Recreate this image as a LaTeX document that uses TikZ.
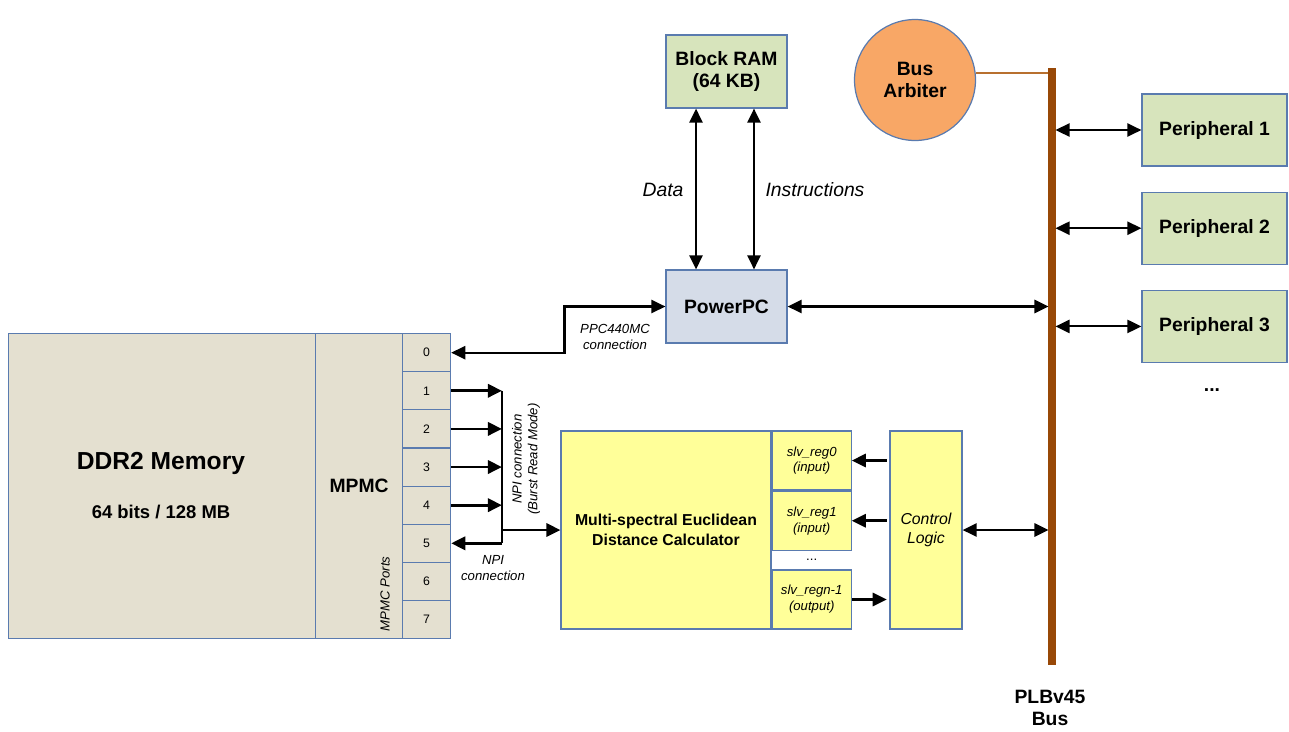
\documentclass[tikz,border=0pt]{standalone}
\usepackage{fontspec}
\setmainfont{Liberation Sans}
\usepackage{xcolor}
\usepackage{tikz}
\usetikzlibrary{arrows.meta,positioning,calc}
\definecolor{softtan}{HTML}{E4E0D0}
\definecolor{softgreen}{HTML}{D7E4BC}
\definecolor{softblue}{HTML}{D5DCE8}
\definecolor{softyellow}{HTML}{FFFF99}
\definecolor{softorange}{HTML}{F8A766}
\definecolor{line}{HTML}{5A7BAF}
\definecolor{busbrown}{HTML}{984807}
\definecolor{linkbrown}{HTML}{B8702F}

\begin{document}
\begin{tikzpicture}[
  x=0.02cm, y=-0.02cm,
  box/.style={draw=line, line width=0.7pt, minimum width=2.42cm, minimum height=1.46cm, align=center, inner sep=1pt, font=\fontsize{11}{13}\selectfont\bfseries},
  port/.style={draw=line, fill=softtan, line width=0.7pt, minimum width=0.96cm, minimum height=0.7625cm, inner sep=0pt, anchor=north west, font=\fontsize{7}{8}\selectfont},
  reg/.style={draw=line, fill=softyellow, line width=0.7pt, minimum width=1.58cm, minimum height=1.18cm, align=center, inner sep=0pt, font=\fontsize{7.5}{9}\selectfont\itshape},
  note/.style={align=center, inner sep=1pt, font=\fontsize{7.5}{9}\selectfont\itshape},
  arr/.style={-{Triangle[length=8pt,width=7.5pt]}, line width=1.5pt},
  darr/.style={{Triangle[length=8pt,width=7.5pt]}-{Triangle[length=8pt,width=7.5pt]}, line width=1.3pt},
  bus/.style={busbrown, line width=4pt}
]
\useasboundingbox (0,0) rectangle (1289,731);

% memory with MPMC and its ports
\node[draw=line, fill=softtan, line width=0.7pt, minimum width=6.14cm, minimum height=6.1cm, anchor=north west] (mem) at (8,333) {};
\node[draw=line, fill=softtan, line width=0.7pt, minimum width=1.74cm, minimum height=6.1cm, anchor=north west, font=\fontsize{11}{13}\selectfont\bfseries] (mpmc) at (315,333) {MPMC};
\node[font=\fontsize{14}{16}\selectfont\bfseries] (memtitle) at (161,463) {DDR2 Memory};
\node[font=\fontsize{10.5}{12}\selectfont\bfseries] (memsize) at (161,512) {64 bits / 128 MB};
\node[note, rotate=90] (portslbl) at (385,594) {MPMC Ports};
\foreach \i in {0,...,7}
  \node[port] (p\i) at (402,{333+38.125*\i}) {\i};

% processor side
\node[box, fill=softgreen] (bram) at (726.5,71.5) {Block RAM\\(64 KB)};
\node[box, fill=softblue] (ppc) at (726.5,306.5) {PowerPC};
\draw[darr] ([xshift=-0.61cm]bram.south) -- ([xshift=-0.61cm]ppc.north);
\draw[darr] ([xshift=0.55cm]bram.south) -- ([xshift=0.55cm]ppc.north);
\node[font=\fontsize{11}{13}\selectfont\itshape] (datalbl) at (663,190) {Data};
\node[font=\fontsize{11}{13}\selectfont\itshape] (instrlbl) at (815,190) {Instructions};
\draw[darr] (p0.east) -| ([xshift=-2.02cm]ppc.west) -- (ppc.west);
\node[note] (ppclbl) at (615,337) {PPC440MC\\connection};

% bus and arbiter
\node[circle, draw=line, fill=softorange, line width=0.7pt, minimum size=2.42cm, align=center, inner sep=0pt, font=\fontsize{11}{13}\selectfont\bfseries] (arb) at (915,80) {Bus\\Arbiter};
\coordinate (bustop) at (1052,68);
\coordinate (busbot) at (1052,665);
\draw[linkbrown, line width=1.2pt] (arb.7) -- (arb.7 -| bustop);
\draw[bus] (bustop) -- (busbot);
\node[align=center, font=\fontsize{11}{13}\selectfont\bfseries] (buslbl) at (1050,708) {PLBv45\\Bus};

% peripherals
\node[box, fill=softgreen, minimum width=2.9cm, minimum height=1.44cm] (per1) at (1214.5,130) {Peripheral 1};
\node[box, fill=softgreen, minimum width=2.9cm, minimum height=1.44cm, below=0.5cm of per1] (per2) {Peripheral 2};
\node[box, fill=softgreen, minimum width=2.9cm, minimum height=1.44cm, below=0.5cm of per2] (per3) {Peripheral 3};
\node[font=\fontsize{11}{13}\selectfont\bfseries] (perdots) at (1212,390) {...};
\foreach \i in {1,2,3}
  \draw[darr, line width=1.1pt, shorten <=2pt] (per\i.west -| bustop) -- (per\i.west);
\draw[darr, shorten >=2pt] (ppc.east) -- (ppc.east -| bustop);

% calculator, registers, control
\node[draw=line, fill=softyellow, line width=0.7pt, minimum width=4.2cm, minimum height=3.96cm, align=center, font=\fontsize{9}{11}\selectfont\bfseries] (medc) at (666,530) {Multi-spectral Euclidean\\Distance Calculator};
\node[reg, anchor=north west] (reg0) at (medc.north east) {slv\_reg0\\(input)};
\node[reg, below=0cm of reg0] (reg1) {slv\_reg1\\(input)};
\node[reg, anchor=south west] (regn) at (medc.south east) {slv\_regn-1\\(output)};
\node[font=\fontsize{7.5}{9}\selectfont] (regdots) at ($(reg1.south)!0.5!(regn.north)$) {...};
\node[draw=line, fill=softyellow, line width=0.7pt, minimum width=1.44cm, minimum height=3.96cm, align=center, font=\fontsize{9}{11}\selectfont\itshape] (ctrl) at (926,530) {Control\\Logic};
\draw[arr, shorten <=1.5pt] (ctrl.west |- reg0.east) -- (reg0.east);
\draw[arr, shorten <=1.5pt] (ctrl.west |- reg1.east) -- (reg1.east);
\draw[arr, shorten >=1.5pt] (regn.east) -- (regn.east -| ctrl.west);
\draw[darr, shorten >=2pt] (ctrl.east) -- (ctrl.east -| bustop);

% NPI links
\coordinate (npi) at (502,390);
\foreach \i in {1,...,4}
  \draw[arr] (p\i.east) -- (p\i.east -| npi);
\draw[line width=1.5pt] (p1.east -| npi) -- (p5.east -| npi);
\draw[arr] (p5.east -| npi) -- (p5.east);
\draw[arr] (medc.west -| npi) -- (medc.west);
\node[note, rotate=90] (npilbl) at (526,459) {NPI connection\\(Burst Read Mode)};
\node[note] (npi5lbl) at (493,568) {NPI\\connection};
\end{tikzpicture}
\end{document}
